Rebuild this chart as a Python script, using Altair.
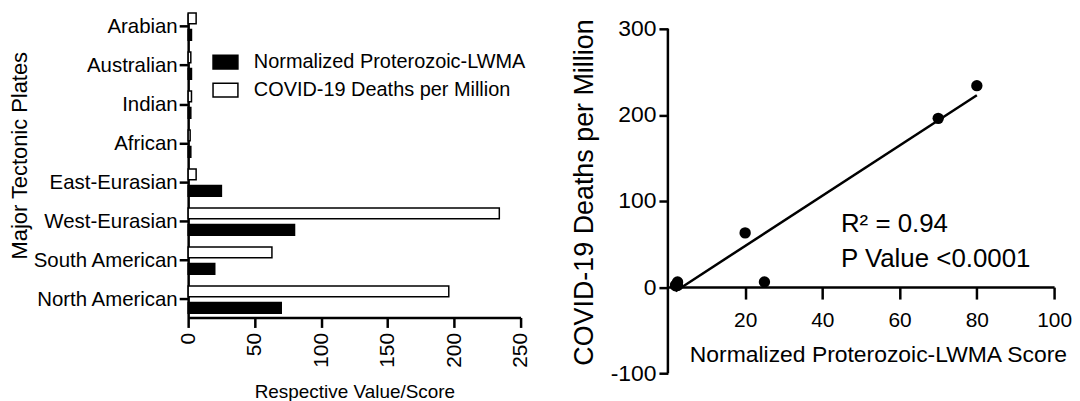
import altair as alt
import pandas as pd

plates = ["Arabian", "Australian", "Indian", "African", "East-Eurasian",
          "West-Eurasian", "South American", "North American"]
lwma = [2.5, 2.5, 2, 2, 25, 80, 20, 70]
deaths = [6, 2, 2.5, 1.5, 6, 234, 63, 196]

s_lwma = "Normalized Proterozoic-LWMA"
s_deaths = "COVID-19 Deaths per Million"

rows = []
for p, a, d in zip(plates, lwma, deaths):
    rows.append({"plate": p, "series": s_lwma, "value": a})
    rows.append({"plate": p, "series": s_deaths, "value": d})
bar_df = pd.DataFrame(rows)

scatter_df = pd.DataFrame({"score": lwma, "deaths": deaths})

ann_text = ["R² = 0.94", "P Value <0.0001"]
ann_x = [44.8, 44.8]
ann_y = [63.6, 23]
ann_df = pd.DataFrame({"t": ann_text, "x": ann_x, "y": ann_y})

# y axis line of the scatter panel runs from -100 to 300
yaxis_df = pd.DataFrame({"x": [0], "y": [-100], "y2": [300]})

FONT = "Liberation Sans"

bars = alt.Chart(bar_df).mark_bar(stroke="black", strokeWidth=1.5).encode(
    x=alt.X("value:Q",
            scale=alt.Scale(domain=[0, 250], nice=False),
            axis=alt.Axis(title="Respective Value/Score", values=[0, 50, 100, 150, 200, 250],
                          labelAngle=270, labelFontSize=21, titleFontSize=19, labelFlush=False,
                          tickSize=10, labelPadding=5, titlePadding=15)),
    y=alt.Y("plate:N", sort=plates,
            scale=alt.Scale(paddingInner=0.3, paddingOuter=0.055, align=0),
            axis=alt.Axis(title="Major Tectonic Plates", labelFontSize=20.5, titleFontSize=22,
                          tickSize=9, labelPadding=2, titlePadding=1, titleY=143)),
    yOffset=alt.YOffset("series:N", sort=[s_deaths, s_lwma],
                        scale=alt.Scale(paddingInner=0.35, paddingOuter=0)),
    fill=alt.Fill("series:N",
                  scale=alt.Scale(domain=[s_lwma, s_deaths], range=["black", "white"]),
                  legend=alt.Legend(title=None, orient="none", legendX=24, legendY=36,
                                    labelFontSize=20, symbolSize=625, labelLimit=0,
                                    symbolType="M-1,-0.55H1V0.55H-1Z",
                                    symbolStrokeColor="black", symbolStrokeWidth=1.5,
                                    labelOffset=15, rowPadding=4, padding=0)),
).properties(width=334, height=306)

xs = alt.Scale(domain=[0, 100], nice=False)
ys = alt.Scale(domain=[-100, 318.5], nice=False)

points = alt.Chart(scatter_df).mark_circle(size=130, color="black", opacity=1).encode(
    x=alt.X("score:Q", scale=xs,
            axis=alt.Axis(title="Normalized Proterozoic-LWMA Score", values=[20, 40, 60, 80, 100],
                          labelFontSize=21, titleFontSize=23, tickSize=12, labelPadding=11,
                          labelFlush=False, titlePadding=13, offset=-86.5, titleX=211)),
    y=alt.Y("deaths:Q", scale=ys,
            axis=alt.Axis(title="COVID-19 Deaths per Million", values=[-100, 0, 100, 200, 300],
                          labelExpr="datum.value + ''", domain=False, labelFlush=False,
                          labelFontSize=23, titleFontSize=27, tickSize=9, labelPadding=3,
                          titleX=-70, titleY=180)),
)

yline = alt.Chart(yaxis_df).mark_rule(color="black", strokeWidth=2.5).encode(
    x=alt.X("x:Q", scale=xs), y=alt.Y("y:Q", scale=ys), y2="y2:Q")

fit = alt.Chart(scatter_df).transform_regression("score", "deaths").mark_line(
    color="black", strokeWidth=2.5).encode(x="score:Q", y="deaths:Q")

ann = alt.Chart(ann_df).mark_text(align="left", baseline="alphabetic", fontSize=26,
                                  color="black").encode(x="x:Q", y="y:Q", text="t:N")

right = alt.layer(points, yline, fit, ann).properties(width=388, height=362)

chart = alt.hconcat(bars, right, spacing=39).properties(
    padding={"left": 0, "top": 3, "right": 0, "bottom": 0}
).configure(font=FONT).configure_view(stroke=None).configure_axis(
    grid=False, domainColor="black", domainWidth=2.5, tickColor="black", tickWidth=2.5,
    labelColor="black", titleColor="black", titleFontWeight="normal", labelFont=FONT, titleFont=FONT
).configure_legend(labelColor="black", labelFont=FONT)

chart.save("out.html", embed_options={"renderer": "svg", "actions": False})
